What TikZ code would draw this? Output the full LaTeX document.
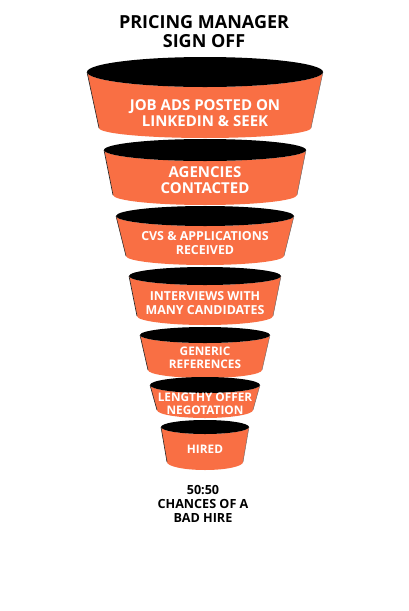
\documentclass[tikz,border=0pt]{standalone}
\usepackage{fontspec}
\setmainfont{Open Sans}
\definecolor{funnelorange}{RGB}{249,111,68}
\tikzset{
  seglabel/.style={text=white,font=\bfseries,align=center,inner sep=0pt},
  bigl/.style={seglabel,font=\fontsize{15}{16.5}\selectfont\bfseries},
  midl/.style={seglabel,font=\fontsize{12.4}{14}\selectfont\bfseries},
  smalll/.style={seglabel,font=\fontsize{11.8}{12.5}\selectfont\bfseries},
  sideedge/.style={draw=black!85,line width=0.6pt},
}
% #1 cx, #2 yt, #3 rxt, #4 ryt, #5 yb, #6 rxb, #7 ryb
\newcommand\funnelseg[7]{%
  \fill[funnelorange] ({#1-#3},{-#2}) -- ({#1-#6},{-#5})
     arc[start angle=180,end angle=360,x radius=#6pt,y radius=#7pt]
     -- ({#1+#3},{-#2})
     arc[start angle=0,end angle=-180,x radius=#3pt,y radius=#4pt] -- cycle;
  \draw[sideedge] ({#1-#3},{-#2}) -- ({#1-#6},{-#5});
  \draw[sideedge,draw=black!60,line width=0.4pt] ({#1+#3},{-#2}) -- ({#1+#6},{-#5});
  \fill[black] (#1,{-#2}) ellipse[x radius=#3pt,y radius=#4pt];
}
\begin{document}
\begin{tikzpicture}[x=1pt,y=1pt]
\useasboundingbox[fill=white] (0,0) rectangle (408,-611);
\node[font=\fontsize{18}{19}\selectfont\bfseries,align=center] (title) at (204,-32) {PRICING MANAGER\\SIGN OFF};
\funnelseg{205}{72}{118}{15}{128}{106}{10}
\node[bigl] (s1) at (205,-113) {JOB ADS POSTED ON\\LINKEDIN \& SEEK};
\funnelseg{205}{150}{101}{11}{195}{92}{10}
\node[bigl] (s2) at (205,-180) {AGENCIES\\CONTACTED};
\funnelseg{205}{216}{89}{10}{256}{79}{9}
\node[midl] (s3) at (205,-243) {CVS \& APPLICATIONS\\RECEIVED};
\funnelseg{205}{276}{76}{9}{316}{68}{9}
\node[midl] (s4) at (205,-303) {INTERVIEWS WITH\\MANY CANDIDATES};
\funnelseg{205}{335}{65}{8}{370}{57}{8}
\node[smalll] (s5) at (205,-358) {GENERIC\\REFERENCES};
\funnelseg{205}{385}{55}{8}{410}{48}{8}
\node[smalll] (s6) at (205,-404) {LENGTHY OFFER\\NEGOTATION};
\funnelseg{205}{427}{44}{7}{462}{38}{8}
\node[smalll] (s7) at (205,-449) {HIRED};
\node[font=\fontsize{12.6}{14}\selectfont\bfseries,align=center] (result) at (203,-504) {50:50\\CHANCES OF A\\BAD HIRE};
\end{tikzpicture}
\end{document}
